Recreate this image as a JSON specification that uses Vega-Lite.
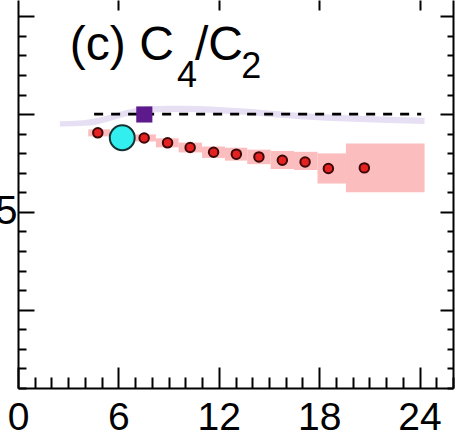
{
  "$schema": "https://vega.github.io/schema/vega-lite/v6.json",
  "autosize": "none",
  "width": 435,
  "height": 388,
  "padding": {"left": 18, "top": 0, "right": 3, "bottom": 49},
  "background": "white",
  "config": {
    "view": {"stroke": null},
    "axis": {
      "grid": false, "domainColor": "black", "domainWidth": 2,
      "tickColor": "black", "tickWidth": 2, "labelColor": "black",
      "labelFont": "Liberation Sans", "labelOverlap": false, "labelFlush": false, "labelBound": false
    }
  },
  "datasets": {
    "boxes": [
      {"x1": 4.2, "x2": 5.5, "lo": 0.886, "hi": 0.922},
      {"x1": 6.85, "x2": 8.24, "lo": 0.86, "hi": 0.896},
      {"x1": 8.24, "x2": 9.6, "lo": 0.83, "hi": 0.876},
      {"x1": 9.6, "x2": 11.0, "lo": 0.804, "hi": 0.854},
      {"x1": 11.0, "x2": 12.37, "lo": 0.776, "hi": 0.834},
      {"x1": 12.37, "x2": 13.7, "lo": 0.762, "hi": 0.828},
      {"x1": 13.7, "x2": 15.1, "lo": 0.744, "hi": 0.818},
      {"x1": 15.1, "x2": 16.5, "lo": 0.719, "hi": 0.811},
      {"x1": 16.5, "x2": 17.9, "lo": 0.714, "hi": 0.807},
      {"x1": 17.9, "x2": 19.6, "lo": 0.645, "hi": 0.799},
      {"x1": 19.6, "x2": 24.3, "lo": 0.6, "hi": 0.85}
    ],
    "band": [
      {"x": 2.5, "lo": 0.937, "hi": 0.963},
      {"x": 4.3, "lo": 0.942, "hi": 0.974},
      {"x": 5.3, "lo": 0.96, "hi": 0.992},
      {"x": 6.5, "lo": 0.989, "hi": 1.021},
      {"x": 7.9, "lo": 1.008, "hi": 1.04},
      {"x": 10.0, "lo": 1.01, "hi": 1.042},
      {"x": 13.0, "lo": 0.999, "hi": 1.031},
      {"x": 16.9, "lo": 0.974, "hi": 1.006},
      {"x": 20.0, "lo": 0.961, "hi": 0.993},
      {"x": 24.3, "lo": 0.949, "hi": 0.981}
    ],
    "baseline": [{"x": 4.55, "x2": 24.1, "y": 1.0}],
    "points": [
      {"x": 4.77, "y": 0.904},
      {"x": 7.54, "y": 0.878},
      {"x": 8.94, "y": 0.853},
      {"x": 10.29, "y": 0.829},
      {"x": 11.69, "y": 0.805},
      {"x": 13.05, "y": 0.795},
      {"x": 14.4, "y": 0.781},
      {"x": 15.8, "y": 0.764},
      {"x": 17.16, "y": 0.755},
      {"x": 18.55, "y": 0.722},
      {"x": 20.7, "y": 0.725}
    ],
    "cyan": [{"x": 6.23, "y": 0.879}],
    "square": [{"x": 7.55, "y": 0.998}],
    "mainText": [
      {"x": 3.1, "y": 1.276, "t": "(c) C"},
      {"x": 10.58, "y": 1.276, "t": "/C"}
    ],
    "subText": [
      {"x": 9.5, "y": 1.138, "t": "4"},
      {"x": 13.35, "y": 1.184, "t": "2"}
    ]
  },
  "resolve": {"scale": {"x": "shared", "y": "shared"}, "axis": {"x": "independent", "y": "independent"}},
  "layer": [
    {
      "data": {"name": "boxes"},
      "mark": {"type": "rect", "color": "#fbbdbd"},
      "encoding": {
        "x": {"field": "x1", "type": "quantitative", "scale": {"domain": [0, 26], "nice": false, "zero": false},
          "axis": {"orient": "bottom", "title": null, "values": [0,1,2,3,4,5,6,7,8,9,10,11,12,13,14,15,16,17,18,19,20,21,22,23,24,25,26],
            "tickSize": {"condition": {"test": "datum.value % 6 === 0", "value": -21}, "value": -11},
            "labelExpr": "datum.value % 6 === 0 && datum.value < 26 ? datum.label : ''",
            "labelFontSize": 39, "labelPadding": 31}},
        "x2": {"field": "x2"},
        "y": {"field": "lo", "type": "quantitative", "scale": {"domain": [-0.4, 1.583], "nice": false, "zero": false},
          "axis": {"orient": "left", "title": null, "values": [-0.4,-0.3,-0.2,-0.1,0,0.1,0.2,0.3,0.4,0.5,0.6,0.7,0.8,0.9,1,1.1,1.2,1.3,1.4,1.5],
            "tickSize": {"condition": {"test": "abs(datum.value*2 - round(datum.value*2)) < 0.001", "value": -16}, "value": -8},
            "labelExpr": "datum.value == 0.5 ? '0.5' : ''",
            "labelFontSize": 40, "labelPadding": 17, "labelBaseline": "middle"}},
        "y2": {"field": "hi"}
      }
    },
    {
      "data": {"name": "band"},
      "mark": {"type": "area", "color": "#e7dff3", "interpolate": "monotone"},
      "encoding": {
        "x": {"field": "x", "type": "quantitative", "scale": {"domain": [0, 26], "nice": false, "zero": false},
          "axis": {"orient": "top", "title": null, "values": [6, 12, 18, 24], "tickSize": -10, "domain": false, "labels": false}},
        "y": {"field": "lo", "type": "quantitative", "scale": {"domain": [-0.4, 1.583], "nice": false, "zero": false},
          "axis": {"orient": "right", "title": null, "values": [-0.4,-0.3,-0.2,-0.1,0,0.1,0.2,0.3,0.4,0.5,0.6,0.7,0.8,0.9,1,1.1,1.2,1.3,1.4,1.5],
            "tickSize": {"condition": {"test": "abs(datum.value*2 - round(datum.value*2)) < 0.001", "value": -13}, "value": -6},
            "labels": false}},
        "y2": {"field": "hi"}
      }
    },
    {
      "data": {"name": "baseline"},
      "mark": {"type": "rule", "color": "black", "strokeWidth": 2.8, "strokeDash": [9, 8]},
      "encoding": {
        "x": {"field": "x", "type": "quantitative", "axis": null},
        "x2": {"field": "x2"},
        "y": {"field": "y", "type": "quantitative", "axis": null}
      }
    },
    {
      "data": {"name": "points"},
      "mark": {"type": "point", "shape": "circle", "filled": true, "size": 90, "fill": "#e52222", "stroke": "#3d0808", "strokeWidth": 2, "opacity": 1},
      "encoding": {
        "x": {"field": "x", "type": "quantitative", "axis": null},
        "y": {"field": "y", "type": "quantitative", "axis": null}
      }
    },
    {
      "data": {"name": "cyan"},
      "mark": {"type": "point", "shape": "circle", "filled": true, "size": 620, "fill": "#33eeee", "stroke": "#143232", "strokeWidth": 2, "opacity": 1},
      "encoding": {
        "x": {"field": "x", "type": "quantitative", "axis": null},
        "y": {"field": "y", "type": "quantitative", "axis": null}
      }
    },
    {
      "data": {"name": "square"},
      "mark": {"type": "point", "shape": "square", "filled": true, "size": 260, "fill": "#5c1a8c", "opacity": 1},
      "encoding": {
        "x": {"field": "x", "type": "quantitative", "axis": null},
        "y": {"field": "y", "type": "quantitative", "axis": null}
      }
    },
    {
      "data": {"name": "mainText"},
      "mark": {"type": "text", "align": "left", "baseline": "alphabetic", "font": "Liberation Sans", "fontSize": 48, "color": "black"},
      "encoding": {
        "x": {"field": "x", "type": "quantitative", "axis": null},
        "y": {"field": "y", "type": "quantitative", "axis": null},
        "text": {"field": "t"}
      }
    },
    {
      "data": {"name": "subText"},
      "mark": {"type": "text", "align": "left", "baseline": "alphabetic", "font": "Liberation Sans", "fontSize": 36, "color": "black"},
      "encoding": {
        "x": {"field": "x", "type": "quantitative", "axis": null},
        "y": {"field": "y", "type": "quantitative", "axis": null},
        "text": {"field": "t"}
      }
    }
  ]
}
